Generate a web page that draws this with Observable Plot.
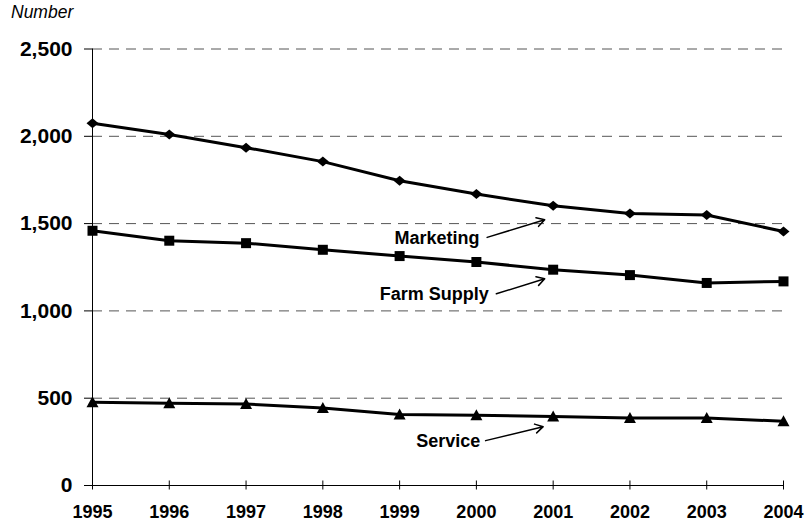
<!DOCTYPE html>
<html>
<head>
<meta charset="utf-8">
<script src="https://cdn.jsdelivr.net/npm/d3@7"></script>
<script src="https://cdn.jsdelivr.net/npm/@observablehq/plot@0.6"></script>
<style>
  html, body { margin: 0; padding: 0; background: #fff; }
  #wrap { position: relative; width: 805px; height: 527px; font-family: "Liberation Sans", Arial, sans-serif; }
  #ylabel { position: absolute; left: 11px; top: 2px; font-style: italic; font-size: 17.5px; line-height: 20px; color: #000; }
  #chart { position: absolute; left: 0; top: 0; }
</style>
</head>
<body>
<div id="wrap">
  <div id="chart"></div>
  <div id="ylabel">Number</div>
</div>
<script>
const years = [1995, 1996, 1997, 1998, 1999, 2000, 2001, 2002, 2003, 2004];
const marketing = [2075, 2010, 1935, 1855, 1745, 1669, 1602, 1558, 1549, 1455];
const farmSupply = [1459, 1402, 1388, 1350, 1314, 1280, 1236, 1205, 1160, 1169];
const service = [477, 471, 467, 444, 406, 403, 395, 387, 386, 368];
const yTicks = [0, 500, 1000, 1500, 2000, 2500];
const gridValues = [500, 1000, 1500, 2000, 2500];

const labelText = ["Marketing", "Farm Supply", "Service"];
const labelX = [2000.04, 2000.16, 2000.05];
const labelY = [1419, 1093, 252];
const arrowX1 = [2000.14, 2000.26, 2000.12];
const arrowY1 = [1421, 1098, 257];
const arrowX2 = [2000.89, 2000.89, 2000.87];
const arrowY2 = [1522, 1184, 337];

const rows = [];
[["Marketing", marketing], ["Farm Supply", farmSupply], ["Service", service]].forEach(([name, vals]) => {
  vals.forEach((v, i) => rows.push({series: name, year: years[i], value: v}));
});
const labels = labelText.map((t, i) => ({text: t, x: labelX[i], y: labelY[i]}));
const arrows = labelText.map((t, i) => ({x1: arrowX1[i], y1: arrowY1[i], x2: arrowX2[i], y2: arrowY2[i]}));

const diamondSym = {draw(ctx) { ctx.moveTo(0, -5); ctx.lineTo(6, 0); ctx.lineTo(0, 5); ctx.lineTo(-6, 0); ctx.closePath(); }};
const squareSym = {draw(ctx) { ctx.rect(-5, -5, 10, 10); }};
const triangleSym = {draw(ctx) { ctx.moveTo(0, -6); ctx.lineTo(6, 5); ctx.lineTo(-6, 5); ctx.closePath(); }};

const yearFmt = d => String(d);

const chart = Plot.plot({
  width: 805,
  height: 527,
  marginLeft: 92,
  marginRight: 22,
  marginTop: 48.5,
  marginBottom: 42,
  style: {fontFamily: "'Liberation Sans', Arial, sans-serif", color: "#000", background: "#fff"},
  x: {domain: [1995, 2004], ticks: years, tickFormat: yearFmt},
  y: {domain: [0, 2500], ticks: yTicks, tickFormat: d3.format(",")},
  marks: [
    Plot.ruleY(gridValues, {stroke: "#555", strokeWidth: 1, strokeDasharray: "10,7"}),
    Plot.axisY({ticks: yTicks, tickFormat: d3.format(","), tickSize: 8, tickPadding: 12, fontSize: 21, fontWeight: "bold", label: null, stroke: "#000"}),
    Plot.axisX({ticks: years, tickSize: 9, dy: -4.5, tickFormat: () => "", label: null, stroke: "#000"}),
    Plot.axisX({ticks: years, tickFormat: yearFmt, tickSize: 0, tickPadding: 20, fontSize: 18, fontWeight: "bold", label: null}),
    Plot.ruleX([1995], {stroke: "#000", strokeWidth: 1}),
    Plot.ruleY([0], {stroke: "#000", strokeWidth: 1}),
    Plot.line(rows, {x: "year", y: "value", z: "series", stroke: "#000", strokeWidth: 3}),
    Plot.dot(rows.filter(d => d.series === "Marketing"), {x: "year", y: "value", symbol: diamondSym, fill: "#000"}),
    Plot.dot(rows.filter(d => d.series === "Farm Supply"), {x: "year", y: "value", symbol: squareSym, fill: "#000"}),
    Plot.dot(rows.filter(d => d.series === "Service"), {x: "year", y: "value", symbol: triangleSym, fill: "#000"}),
    Plot.arrow(arrows, {x1: "x1", y1: "y1", x2: "x2", y2: "y2", stroke: "#000", strokeWidth: 1.5, headLength: 9}),
    Plot.text(labels, {x: "x", y: "y", text: "text", textAnchor: "end", fontSize: 18, fontWeight: "bold", fill: "#000"})
  ]
});
document.getElementById("chart").appendChild(chart);
</script>
</body>
</html>
